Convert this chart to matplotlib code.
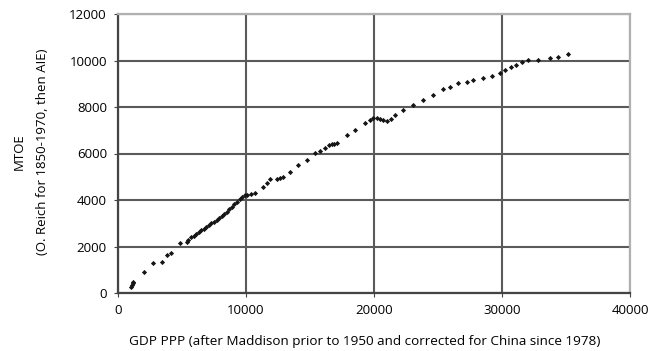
import matplotlib
matplotlib.use("Agg")
import matplotlib.pyplot as plt

gdp = [1000, 1070, 1150, 1200, 2050, 2760, 3410, 3800, 4140, 4840, 5370,
       5500, 5700, 5900, 6100, 6300, 6500, 6700, 6900, 7100, 7300, 7500, 7700,
       7900, 8100, 8300, 8500, 8700, 8900, 9100, 9300, 9500, 9700, 9900,
       10050, 10400, 10700, 11350, 11650, 11870, 12400, 12650, 12900, 13430,
       14080, 14740, 15390, 15800, 16170, 16450, 16690, 16900, 17080, 17860,
       18510, 19290, 19700, 19940, 20200, 20460, 20700, 20990, 21300, 21630,
       22280, 23060, 23840, 24620, 25410, 25930, 26580, 27230, 27750, 28530,
       29180, 29830, 30220, 30740, 31130, 31530, 32050, 32830, 33740, 34390,
       35170]
mtoe = [250, 330, 420, 475, 900, 1270, 1340, 1620, 1700, 2130, 2200,
        2300, 2400, 2470, 2540, 2620, 2690, 2760, 2840, 2910, 2990, 3060, 3130,
        3220, 3310, 3400, 3490, 3600, 3710, 3820, 3930, 4040, 4140, 4200,
        4210, 4240, 4280, 4570, 4750, 4890, 4900, 4930, 4980, 5220,
        5500, 5720, 6010, 6120, 6220, 6350, 6410, 6430, 6440, 6800,
        7010, 7300, 7450, 7520, 7520, 7470, 7430, 7410, 7500, 7660,
        7870, 8090, 8300, 8520, 8770, 8880, 9020, 9090, 9170, 9240,
        9340, 9460, 9570, 9740, 9810, 9920, 10010, 10030, 10100, 10150,
        10290]

xticks = [0, 10000, 20000, 30000, 40000]
yticks = [0, 2000, 4000, 6000, 8000, 10000, 12000]

plt.rcParams['font.family'] = ['Open Sans', 'DejaVu Sans']

fig = plt.figure(figsize=(6.49, 3.51), dpi=100)
ax = fig.add_axes([118/649, 1 - 293/351, (630 - 118)/649, (293 - 14)/351])

ax.set_xlim(0, 40000)
ax.set_ylim(0, 12000)
ax.set_xticks(xticks)
ax.set_yticks(yticks)
ax.set_xticklabels([str(v) for v in xticks])
ax.set_yticklabels([str(v) for v in yticks])
ax.tick_params(labelsize=9.5, length=3, color='#444444', pad=5)

ax.grid(True, color='#5a5a5a', linewidth=1.5)
ax.set_axisbelow(True)
for s in ['top', 'right']:
    ax.spines[s].set_color('#b0b0b0')
    ax.spines[s].set_linewidth(1.6)
for s in ['left', 'bottom']:
    ax.spines[s].set_color('#444444')
    ax.spines[s].set_linewidth(1.6)

ax.scatter(gdp, mtoe, marker='D', s=7, color='#151515', zorder=3, linewidths=0)

fig.text(365/649, 1 - 342/351,
         'GDP PPP (after Maddison prior to 1950 and corrected for China since 1978)',
         fontsize=9.7, ha='center', va='center')
fig.text(19/649, 1 - 152/351, 'MTOE', fontsize=9.5, rotation=90,
         ha='center', va='center')
fig.text(43/649, 1 - 152/351, '(O. Reich for 1850-1970, then AIE)', fontsize=9.5,
         rotation=90, ha='center', va='center')

fig.savefig('out.png', dpi=100)
